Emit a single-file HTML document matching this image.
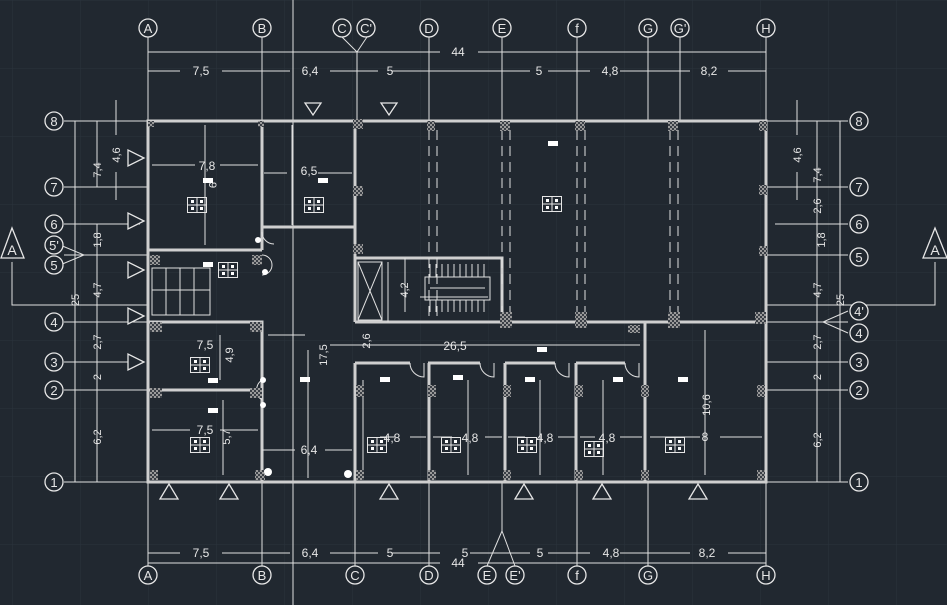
<!DOCTYPE html>
<html><head><meta charset="utf-8"><style>
html,body{margin:0;padding:0;background:#212830;}
svg{display:block}
text{font-family:"Liberation Sans",sans-serif;fill:#e6e6e6}
</style></head><body>
<svg width="947" height="605" viewBox="0 0 947 605" xmlns="http://www.w3.org/2000/svg">
<defs>
<pattern id="g" width="68" height="68" patternUnits="userSpaceOnUse" x="12" y="0">
<path d="M0 0H68M0 0V68" stroke="#2b333d" stroke-width="1" fill="none"/></pattern>
<pattern id="h" width="4" height="4" patternUnits="userSpaceOnUse"><rect width="4" height="4" fill="#9a9a9a"/><rect width="2" height="2" fill="#3a3f46"/><rect x="2" y="2" width="2" height="2" fill="#3a3f46"/></pattern>
<symbol id="w" viewBox="0 0 20 16"><g fill="none" stroke="#e6e6e6"><rect x="0.5" y="0.5" width="19" height="15"/><path d="M10 0V16M0 8H20"/></g><g fill="#fff"><rect x="4" y="3" width="3" height="3"/><rect x="13" y="3" width="3" height="3"/><rect x="4" y="10" width="3" height="3"/><rect x="13" y="10" width="3" height="3"/></g></symbol>
</defs>
<rect width="947" height="605" fill="#212830"/>
<rect width="947" height="605" fill="url(#g)"/>
<g stroke="#e0e0e0" stroke-width="1" fill="none">
<path d="M148 37V121M262 37V121M357 52V121M429 37V121M502 37V121M577 37V121M648 37V121M680 37V121M766 37V121"/>
<path d="M342 37L357 52L367 37"/>
<path d="M293 0V605"/>
<path d="M148 482V566M262 482V566M355 482V566M429 482V566M577 482V566M648 482V566M766 482V566M502 482V531M502 531L487 566M502 531L515 566"/>
<path d="M148 52H440M478 52H766M148 71H180M222 71H262M262 71H290M330 71H357M357 71H378M392 71H429M429 71H530M548 71H577M577 71H590M620 71H648M648 71H690M728 71H766"/>
<path d="M148 553H180M222 553H262M262 553H290M330 553H355M355 553H378M392 553H440M470 553H530M548 553H577M577 553H590M620 553H648M648 553H690M728 553H766M148 563H440M478 563H766"/>
<path d="M64 121H148M64 187H148M64 224H140M64 255H148M64 322H148M64 362H140M64 390H148M64 482H148M60 245L84 255L60 265M75 121V482M97 121V187M97 224V482M116 100V135M116 172V200"/>
<path d="M766 121H848M766 187H848M775 224H848M766 255H848M766 322H848M766 362H848M766 390H848M766 482H848M848 311L823 322L848 333M817 121V482M840 121V482M797 100V135M797 172V200"/>
<path d="M12 262V305H148M935 262V305H766"/>
<g stroke-width="3" stroke="#cfcfcf">
<path d="M148 121H766V482H148Z"/>
<path d="M262 121V250M148 250H262M262 227H355M355 121V322M355 258H502V322M355 322H766M645 322V482M148 322H262V482M148 390H250M355 363V482M429 363V482M505 363V482M576 363V482M355 363H410M428 363H480M505 363H555M576 363H625"/>
</g>
<path stroke-dasharray="10 6" d="M429 130V320M437 130V320M502 130V320M510 130V320M577 130V320M585 130V320M670 130V320M678 130V320"/>
<path d="M205 125V245M152 165H195M220 165H258M264 173H287M318 173H352M292 125V225M268 335H305M330 345H640M308 350V478M220 335V380M223 400V475M152 430H190M220 430H258M262 450H295M325 450H352M363 380V475M380 437H395M410 437H426M468 380V475M433 437H452M485 437H502M540 380V475M508 437H525M558 437H575M603 380V475M580 437H595M620 437H642M705 330V475M650 437H700M720 437H762M405 258V312"/>
<path d="M358 262H382V320H358ZM358 262L382 320M382 262L358 320M388 262V322M425 277H490V300H425ZM430 288H485M420 297H488"/>
<path d="M430 300V312M436 300V312M442 300V312M448 300V312M454 300V312M460 300V312M466 300V312M472 300V312M478 300V312M484 300V312M430 264V277M436 264V277M442 264V277M448 264V277M454 264V277M460 264V277M466 264V277M472 264V277M478 264V277M484 264V277"/>
<path d="M152 268H210V315H152ZM166 268V315M180 268V315M194 268V315M152 290H210"/>
<!-- door arcs -->
<path d="M410 363A14 14 0 0 0 424 377V363M480 363A14 14 0 0 0 494 377V363M555 363A14 14 0 0 0 569 377V363M625 363A14 14 0 0 0 639 377V363M262 232A12 12 0 0 0 274 244M262 380A12 12 0 0 0 262 400M262 255A10 10 0 0 1 262 275"/>
</g>
<g fill="url(#h)">
<rect x="148" y="121" width="6" height="6"/><rect x="258" y="121" width="6" height="6"/><rect x="353" y="119" width="10" height="10"/><rect x="427" y="121" width="8" height="10"/><rect x="500" y="121" width="10" height="10"/><rect x="575" y="121" width="10" height="10"/><rect x="668" y="121" width="10" height="10"/><rect x="759" y="121" width="8" height="10"/>
<rect x="353" y="186" width="10" height="10"/><rect x="759" y="185" width="8" height="10"/><rect x="353" y="244" width="10" height="10"/><rect x="759" y="246" width="8" height="10"/>
<rect x="150" y="255" width="10" height="10"/><rect x="252" y="255" width="10" height="10"/>
<rect x="500" y="312" width="12" height="16"/><rect x="575" y="312" width="12" height="16"/><rect x="668" y="312" width="12" height="16"/><rect x="755" y="312" width="11" height="12"/><rect x="628" y="325" width="12" height="8"/>
<rect x="150" y="322" width="12" height="10"/><rect x="250" y="322" width="12" height="10"/><rect x="150" y="388" width="12" height="10"/><rect x="250" y="388" width="12" height="10"/>
<rect x="150" y="470" width="8" height="10"/><rect x="255" y="470" width="10" height="10"/>
<rect x="356" y="385" width="8" height="12"/><rect x="428" y="385" width="8" height="12"/><rect x="503" y="385" width="8" height="12"/><rect x="575" y="385" width="8" height="12"/><rect x="641" y="385" width="8" height="12"/><rect x="757" y="385" width="8" height="12"/>
<rect x="356" y="470" width="8" height="10"/><rect x="428" y="470" width="8" height="10"/><rect x="503" y="470" width="8" height="10"/><rect x="575" y="470" width="8" height="10"/><rect x="641" y="470" width="8" height="10"/><rect x="757" y="470" width="8" height="10"/>
</g>
<g stroke="#e6e6e6" stroke-width="1.3" fill="#212830">
<circle cx="148" cy="28" r="9"/><circle cx="262" cy="28" r="9"/><circle cx="342" cy="28" r="9"/><circle cx="366" cy="28" r="9"/><circle cx="429" cy="28" r="9"/><circle cx="502" cy="28" r="9"/><circle cx="577" cy="28" r="9"/><circle cx="648" cy="28" r="9"/><circle cx="680" cy="28" r="9"/><circle cx="766" cy="28" r="9"/>
<circle cx="148" cy="575" r="9"/><circle cx="262" cy="575" r="9"/><circle cx="355" cy="575" r="9"/><circle cx="429" cy="575" r="9"/><circle cx="487" cy="575" r="9"/><circle cx="515" cy="575" r="9"/><circle cx="577" cy="575" r="9"/><circle cx="648" cy="575" r="9"/><circle cx="766" cy="575" r="9"/>
<circle cx="54" cy="121" r="9"/><circle cx="54" cy="187" r="9"/><circle cx="54" cy="224" r="9"/><circle cx="54" cy="245" r="9"/><circle cx="54" cy="265" r="9"/><circle cx="54" cy="322" r="9"/><circle cx="54" cy="362" r="9"/><circle cx="54" cy="390" r="9"/><circle cx="54" cy="482" r="9"/>
<circle cx="859" cy="121" r="9"/><circle cx="859" cy="187" r="9"/><circle cx="859" cy="224" r="9"/><circle cx="859" cy="257" r="9"/><circle cx="859" cy="311" r="9"/><circle cx="859" cy="333" r="9"/><circle cx="859" cy="362" r="9"/><circle cx="859" cy="390" r="9"/><circle cx="859" cy="482" r="9"/>
<path d="M1 258L12 228L24 258Z M923 258L935 228L947 258Z"/>
<path d="M305 103H321L313 115Z M381 103H397L389 115Z M128 150V166L144 158Z M128 213V229L144 221Z M128 262V278L144 270Z M128 308V324L144 316Z M128 354V370L144 362Z"/>
<path d="M160 499H178L169 484Z M220 499H238L229 484Z M380 499H398L389 484Z M515 499H533L524 484Z M593 499H611L602 484Z M689 499H707L698 484Z"/>
</g>
<g font-size="13" text-anchor="middle">
<text x="148" y="33">A</text><text x="262" y="33">B</text><text x="342" y="33">C</text><text x="366" y="33">C'</text><text x="429" y="33">D</text><text x="502" y="33">E</text><text x="577" y="33">f</text><text x="648" y="33">G</text><text x="680" y="33">G'</text><text x="766" y="33">H</text>
<text x="148" y="580">A</text><text x="262" y="580">B</text><text x="355" y="580">C</text><text x="429" y="580">D</text><text x="487" y="580">E</text><text x="515" y="580">E'</text><text x="577" y="580">f</text><text x="648" y="580">G</text><text x="766" y="580">H</text>
<text x="54" y="126">8</text><text x="54" y="192">7</text><text x="54" y="229">6</text><text x="54" y="250">5'</text><text x="54" y="270">5</text><text x="54" y="327">4</text><text x="54" y="367">3</text><text x="54" y="395">2</text><text x="54" y="487">1</text>
<text x="859" y="126">8</text><text x="859" y="192">7</text><text x="859" y="229">6</text><text x="859" y="262">5</text><text x="859" y="316">4'</text><text x="859" y="338">4</text><text x="859" y="367">3</text><text x="859" y="395">2</text><text x="859" y="487">1</text>
<text x="12" y="255" font-size="14">A</text><text x="935" y="255" font-size="14">A</text>
</g>
<g font-size="12" text-anchor="middle">
<text x="458" y="56">44</text><text x="201" y="75">7,5</text><text x="310" y="75">6,4</text><text x="390" y="75">5</text><text x="539" y="75">5</text><text x="610" y="75">4,8</text><text x="709" y="75">8,2</text>
<text x="201" y="557">7,5</text><text x="310" y="557">6,4</text><text x="390" y="557">5</text><text x="465" y="557">5</text><text x="540" y="557">5</text><text x="611" y="557">4,8</text><text x="707" y="557">8,2</text><text x="458" y="567">44</text>
<text x="207" y="170">7,8</text><text x="309" y="175">6,5</text><text x="205" y="349">7,5</text><text x="205" y="434">7,5</text><text x="309" y="454">6,4</text><text x="455" y="350">26,5</text>
<text x="392" y="442">4,8</text><text x="470" y="442">4,8</text><text x="545" y="442">4,8</text><text x="607" y="442">4,8</text><text x="705" y="441">8</text>
</g>
<g font-size="11" text-anchor="middle">
<text transform="translate(101,170) rotate(-90)">7,4</text><text transform="translate(120,155) rotate(-90)">4,6</text><text transform="translate(101,240) rotate(-90)">1,8</text><text transform="translate(101,290) rotate(-90)">4,7</text><text transform="translate(101,342) rotate(-90)">2,7</text><text transform="translate(101,377) rotate(-90)">2</text><text transform="translate(101,437) rotate(-90)">6,2</text><text transform="translate(79,300) rotate(-90)">25</text>
<text transform="translate(801,155) rotate(-90)">4,6</text><text transform="translate(821,175) rotate(-90)">7,4</text><text transform="translate(821,206) rotate(-90)">2,6</text><text transform="translate(825,240) rotate(-90)">1,8</text><text transform="translate(821,290) rotate(-90)">4,7</text><text transform="translate(821,342) rotate(-90)">2,7</text><text transform="translate(821,377) rotate(-90)">2</text><text transform="translate(821,440) rotate(-90)">6,2</text><text transform="translate(844,300) rotate(-90)">25</text>
<text transform="translate(408,290) rotate(-90)">4,2</text><text transform="translate(370,341) rotate(-90)">2,6</text><text transform="translate(327,355) rotate(-90)">17,5</text><text transform="translate(233,355) rotate(-90)">4,9</text><text transform="translate(230,437) rotate(-90)">5,7</text><text transform="translate(710,405) rotate(-90)">10,6</text><text transform="translate(209,185) rotate(90)">9</text>
</g>
<g>
<use href="#w" x="187" y="197" width="20" height="16"/><use href="#w" x="304" y="197" width="20" height="16"/><use href="#w" x="542" y="196" width="20" height="16"/><use href="#w" x="190" y="357" width="20" height="16"/><use href="#w" x="190" y="437" width="20" height="16"/><use href="#w" x="367" y="437" width="20" height="16"/><use href="#w" x="441" y="437" width="20" height="16"/><use href="#w" x="517" y="437" width="20" height="16"/><use href="#w" x="584" y="441" width="20" height="16"/><use href="#w" x="665" y="437" width="20" height="16"/><use href="#w" x="218" y="262" width="20" height="16"/>
</g>
<g fill="#ffffff">
<rect x="203" y="178" width="10" height="5"/><rect x="318" y="178" width="10" height="5"/><rect x="548" y="141" width="10" height="5"/><rect x="203" y="262" width="10" height="5"/><rect x="208" y="378" width="10" height="5"/><rect x="208" y="408" width="10" height="5"/><rect x="380" y="377" width="10" height="5"/><rect x="453" y="375" width="10" height="5"/><rect x="537" y="347" width="10" height="5"/><rect x="525" y="377" width="10" height="5"/><rect x="613" y="377" width="10" height="5"/><rect x="678" y="377" width="10" height="5"/><rect x="300" y="377" width="10" height="5"/>
<circle cx="258" cy="240" r="3"/><circle cx="265" cy="272" r="3"/><circle cx="263" cy="380" r="3"/><circle cx="263" cy="405" r="3"/><circle cx="348" cy="474" r="4"/><circle cx="268" cy="472" r="4"/>
</g>
</svg>
</body></html>
